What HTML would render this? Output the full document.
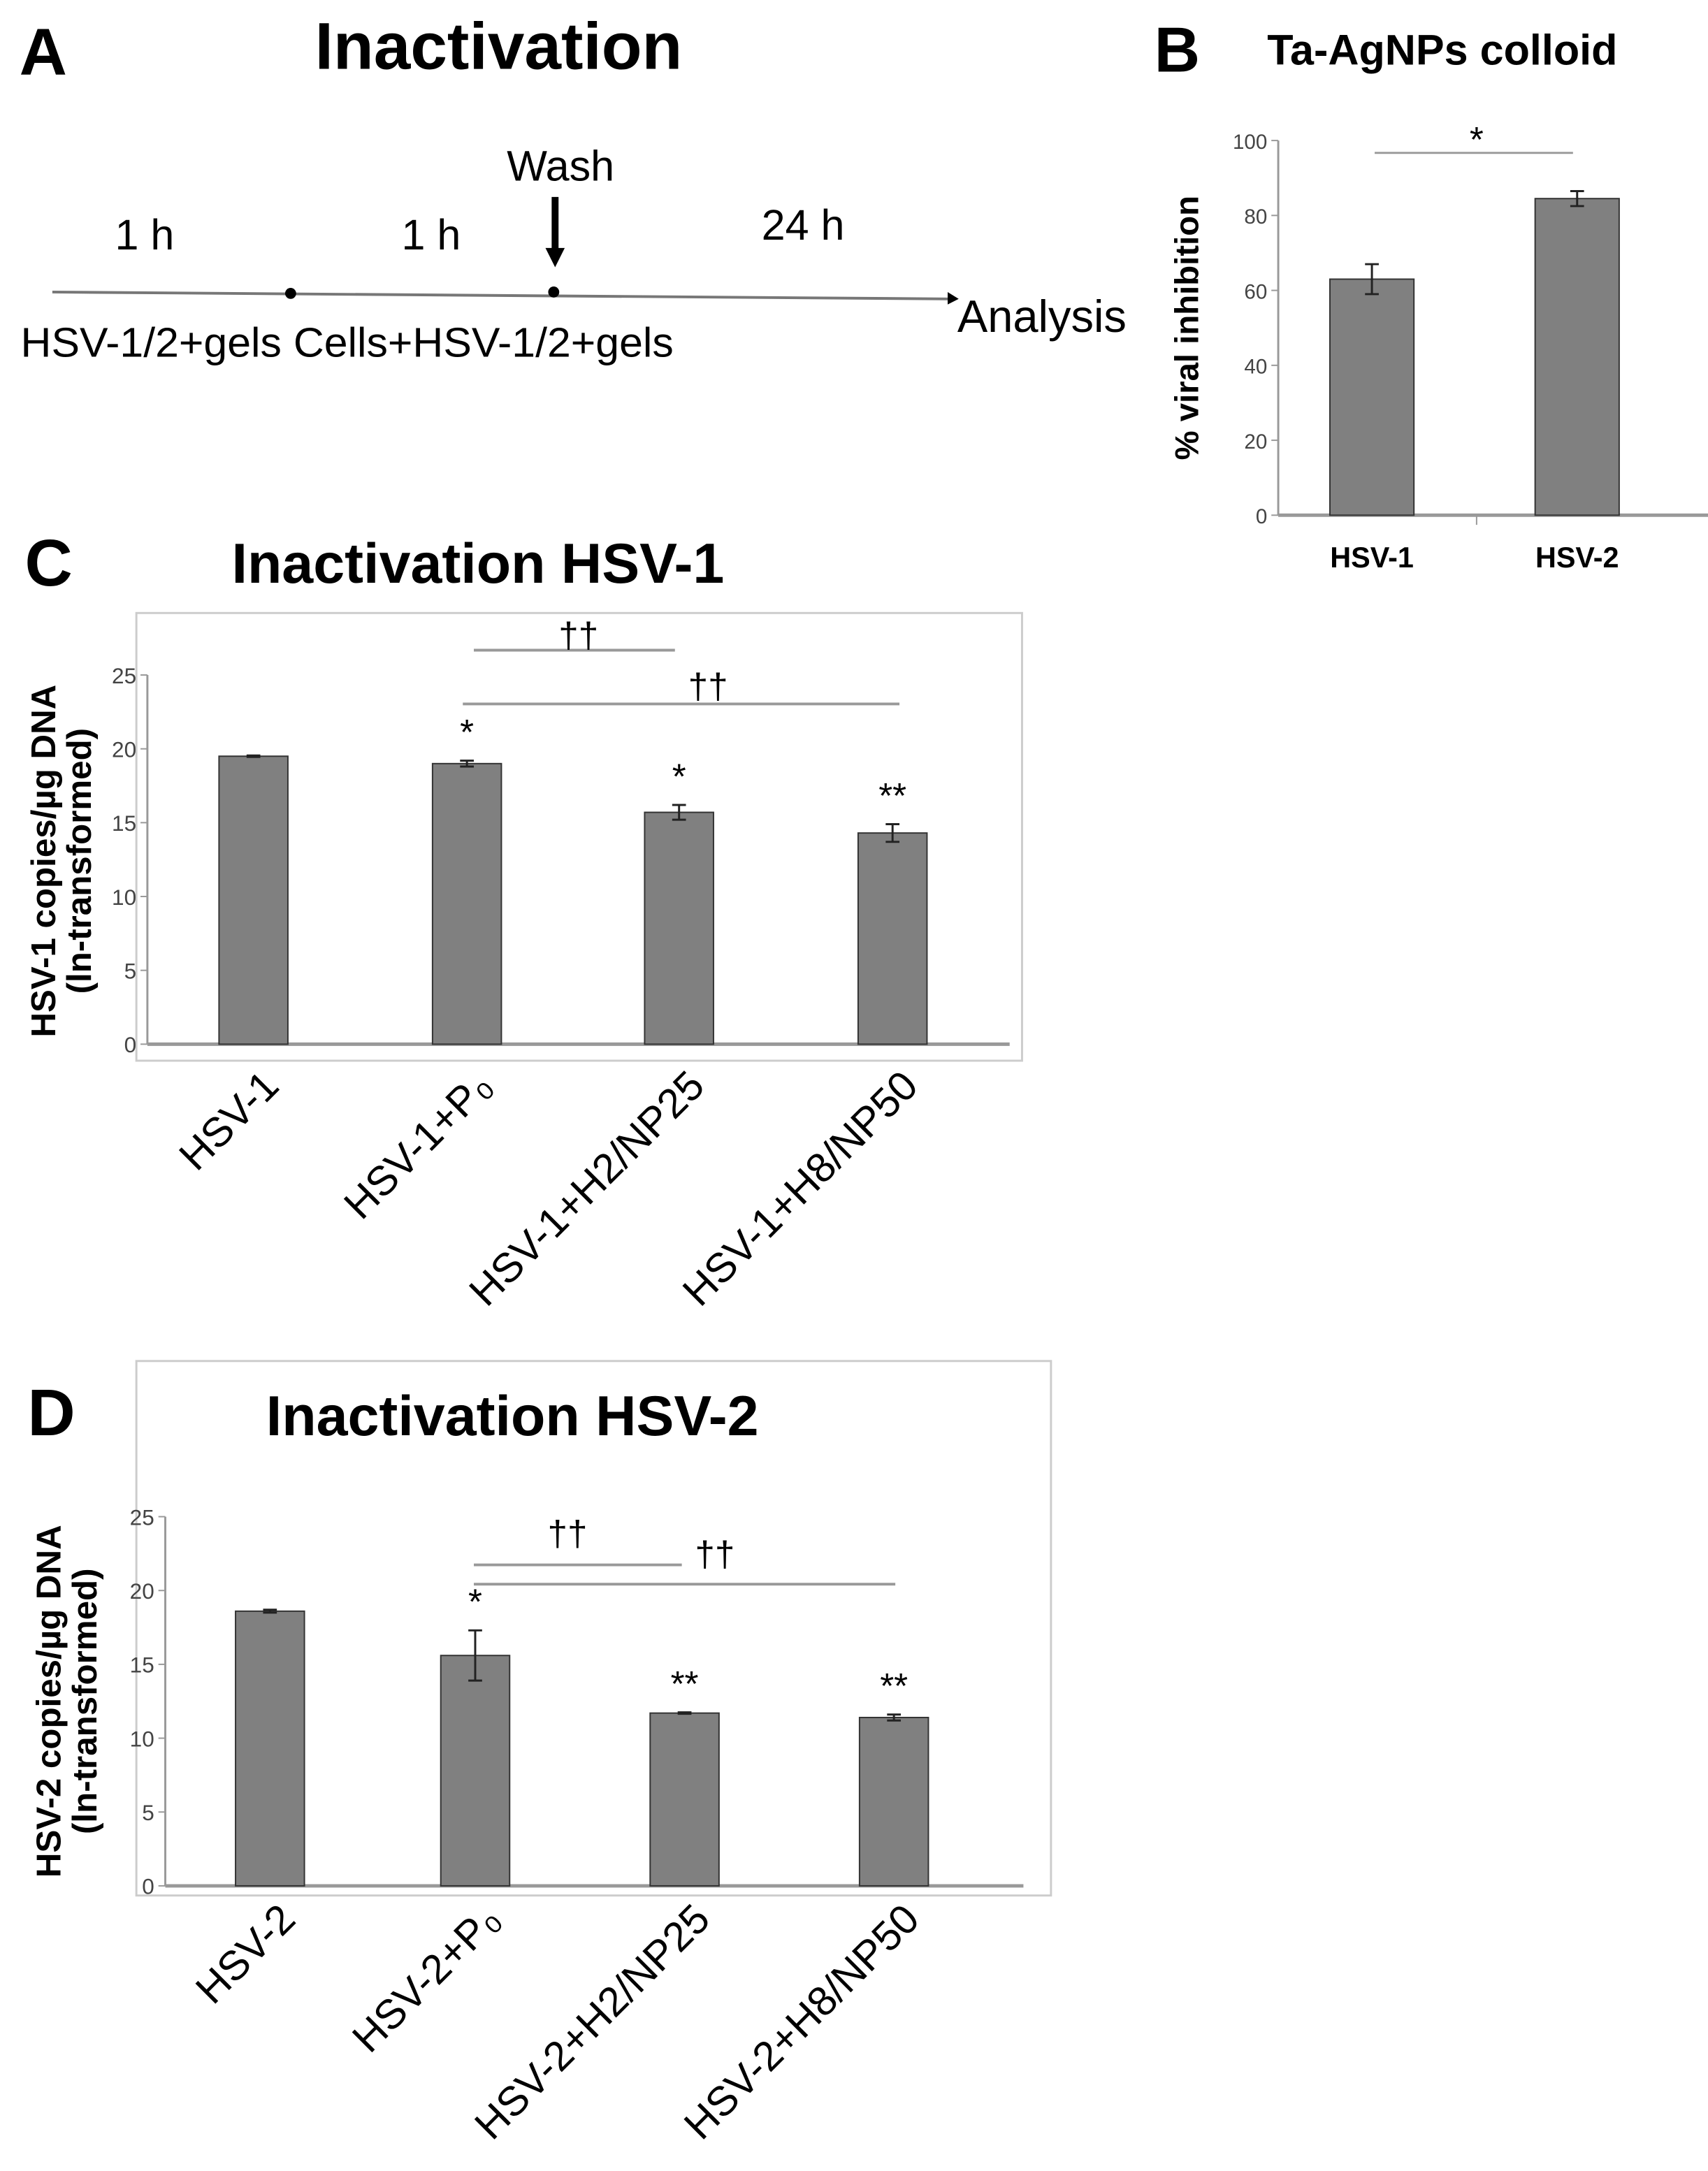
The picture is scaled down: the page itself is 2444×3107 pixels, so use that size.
<!DOCTYPE html>
<html><head><meta charset="utf-8"><style>
html,body{margin:0;padding:0;background:#fff}
svg{display:block}
text{font-family:"Liberation Sans",Arial,sans-serif}
</style></head><body>
<svg id="fig" width="2444" height="3107" viewBox="0 0 1240 1576" preserveAspectRatio="none" xmlns="http://www.w3.org/2000/svg">
<g>
<text x="14" y="54" font-size="48" font-weight="bold">A</text>
<text x="362" y="50" font-size="48" font-weight="bold" text-anchor="middle">Inactivation</text>
<line x1="38" y1="212" x2="688" y2="217" stroke="#777" stroke-width="2"/>
<polygon points="688,212 696,217 688,221" fill="#000"/>
<circle cx="211" cy="213" r="4" fill="#000"/>
<circle cx="402" cy="212" r="4" fill="#000"/>
<line x1="403" y1="143" x2="403" y2="182" stroke="#000" stroke-width="5"/>
<polygon points="396,180 410,180 403,194" fill="#000"/>
<text x="407" y="131" font-size="31" text-anchor="middle">Wash</text>
<text x="105" y="181" font-size="31" text-anchor="middle">1 h</text>
<text x="313" y="181" font-size="31" text-anchor="middle">1 h</text>
<text x="583" y="174" font-size="31" text-anchor="middle">24 h</text>
<text x="695" y="241" font-size="33">Analysis</text>
<text x="15" y="259" font-size="30" textLength="474" lengthAdjust="spacingAndGlyphs">HSV-1/2+gels Cells+HSV-1/2+gels</text>
</g>
<g id="panelB">
<text x="838" y="52" font-size="46" font-weight="bold">B</text>
<text x="920" y="47" font-size="31" font-weight="bold">Ta-AgNPs colloid</text>
<text transform="translate(870,238) rotate(-90)" font-size="24" font-weight="bold" text-anchor="middle">% viral inhibition</text>
<text x="1072" y="110" font-size="26" text-anchor="middle">*</text>
<line x1="998" y1="111" x2="1142" y2="111" stroke="#999" stroke-width="1.5"/>
<line x1="1072" y1="374" x2="1072" y2="381" stroke="#999" stroke-width="1"/>
</g>
<g id="panelC">
<text x="18" y="425" font-size="48" font-weight="bold">C</text>
<text x="347" y="423" font-size="41" font-weight="bold" text-anchor="middle">Inactivation HSV-1</text>
<rect x="99" y="445" width="643" height="325" fill="none" stroke="#ccc" stroke-width="1.5"/>
<text transform="translate(40,625) rotate(-90)" font-size="25" font-weight="bold" text-anchor="middle">HSV-1 copies/µg DNA</text>
<text transform="translate(66,625) rotate(-90)" font-size="25" font-weight="bold" text-anchor="middle">(ln-transformed)</text>
</g>
<g id="panelD">
<rect x="99" y="988" width="664" height="388" fill="none" stroke="#ccc" stroke-width="1.5"/>
<text x="20" y="1042" font-size="48" font-weight="bold">D</text>
<text x="372" y="1042" font-size="41" font-weight="bold" text-anchor="middle">Inactivation HSV-2</text>
<text transform="translate(44,1235) rotate(-90)" font-size="25" font-weight="bold" text-anchor="middle">HSV-2 copies/µg DNA</text>
<text transform="translate(70,1235) rotate(-90)" font-size="25" font-weight="bold" text-anchor="middle">(ln-transformed)</text>
</g>
</svg>
<script>
const NS="http://www.w3.org/2000/svg";
// Panel B data
const bCategories=["HSV-1","HSV-2"];
const bValues=[63,84.5];
const bErrors=[4,2];
const bTicks=[0,20,40,60,80,100];
// Panel C data
const cCategories=["HSV-1","HSV-1+P\u2080","HSV-1+H2/NP25","HSV-1+H8/NP50"];
const cValues=[19.5,19.0,15.7,14.3];
const cErrors=[0.05,0.2,0.5,0.6];
const cMarks=["","*","*","**"];
const cTicks=[0,5,10,15,20,25];
// Panel D data
const dCategories=["HSV-2","HSV-2+P\u2080","HSV-2+H2/NP25","HSV-2+H8/NP50"];
const dValues=[18.6,15.6,11.7,11.4];
const dErrors=[0.1,1.7,0.05,0.2];
const dMarks=["","*","**","**"];
const dTicks=[0,5,10,15,20,25];

function mk(parent,tag,attrs,text){const e=document.createElementNS(NS,tag);for(const k in attrs)e.setAttribute(k,attrs[k]);if(text!==undefined)e.textContent=text;parent.appendChild(e);return e;}

function drawChart(g,o){
  const y=v=>o.y0-(v-o.min)/(o.max-o.min)*(o.y0-o.y1);
  const x=i=>o.xs[i];
  mk(g,'line',{x1:o.ax,y1:o.y1,x2:o.ax,y2:o.y0,stroke:'#999','stroke-width':1.5});
  mk(g,'line',{x1:o.ax,y1:o.y0,x2:o.xEnd,y2:o.y0,stroke:'#999','stroke-width':2.5});
  o.ticks.forEach(t=>{
    mk(g,'line',{x1:o.ax-5,y1:y(t),x2:o.ax,y2:y(t),stroke:'#999','stroke-width':1});
    const tl=mk(g,'text',{x:o.ax-8,y:y(t)+6,'font-size':o.tickSize,'text-anchor':'end',fill:'#444'},String(t));
    
    
  });
  o.values.forEach((v,i)=>{
    const r=mk(g,'rect',{x:x(i)-o.bw/2,y:y(v),width:o.bw,height:o.y0-y(v),fill:'#808080',stroke:'#333','stroke-width':1});
    
    
    const e=o.errors[i];
    const eb=mk(g,'path',{d:`M${x(i)},${y(v+e)}V${y(v-e)}M${x(i)-5},${y(v+e)}H${x(i)+5}M${x(i)-5},${y(v-e)}H${x(i)+5}`,stroke:'#222','stroke-width':1.5,fill:'none'});
    
    
    if(o.marks&&o.marks[i]){
      const m=mk(g,'text',{x:x(i),y:y(v+e)-12,'font-size':26,'text-anchor':'middle'},o.marks[i]);
      
      
    }
    let lab;
    if(o.rotate){
      lab=mk(g,'text',{transform:`translate(${x(i)+20},${o.labelY}) rotate(-45)`,'font-size':30,'text-anchor':'end'},o.cats[i]);
    } else {
      lab=mk(g,'text',{x:x(i),y:o.labelY,'font-size':21,'font-weight':'bold','text-anchor':'middle'},o.cats[i]);
    }
    
    
  });
  return y;
}
drawChart(document.getElementById('panelB'),{min:0,max:100,y0:374,y1:102,ax:928,xEnd:1245,xs:[996,1145],bw:61,values:bValues,errors:bErrors,ticks:bTicks,cats:bCategories,labelY:412,tickSize:15,rotate:false});
const gC=document.getElementById('panelC');
drawChart(gC,{min:0,max:25,y0:758,y1:490,ax:107,xEnd:733,xs:[184,339,493,648],bw:50,values:cValues,errors:cErrors,marks:cMarks,ticks:cTicks,cats:cCategories,labelY:790,tickSize:16,rotate:true});
const gD=document.getElementById('panelD');
drawChart(gD,{min:0,max:25,y0:1369,y1:1101,ax:120,xEnd:743,xs:[196,345,497,649],bw:50,values:dValues,errors:dErrors,marks:dMarks,ticks:dTicks,cats:dCategories,labelY:1395,tickSize:16,rotate:true});
function sig(g,x1,x2,yy,tx,ty){
  const l=mk(g,'line',{x1:x1,y1:yy,x2:x2,y2:yy,stroke:'#999','stroke-width':2});
  
  
  const t=mk(g,'text',{x:tx,y:ty,'font-size':26,'text-anchor':'middle'},'††');
  
  
}
sig(gC,344,490,472,420,470);
sig(gC,336,653,511,514,507);
sig(gD,344,495,1136,412,1122);
sig(gD,344,650,1150,519,1137);
</script>
</body></html>
